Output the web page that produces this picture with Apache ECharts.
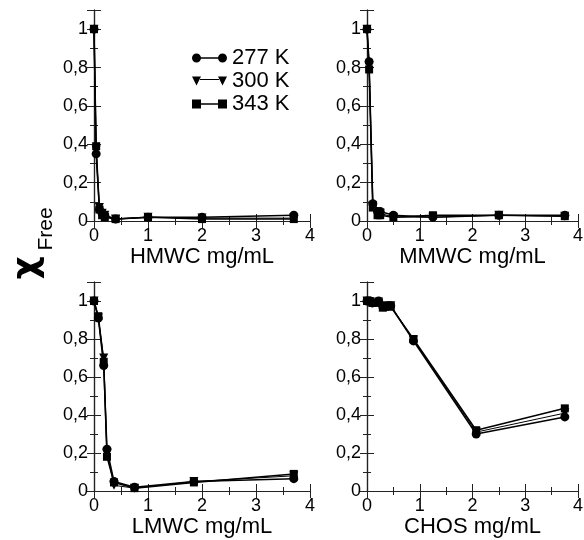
<!DOCTYPE html>
<html>
<head>
    <meta charset="utf-8">
    <title>chi free</title>
    <script src="https://cdn.jsdelivr.net/npm/echarts@6/dist/echarts.min.js"></script>
    <style>
        body { margin: 0; background: #fff; }
        #main { width: 584px; height: 540px; }
    </style>
</head>
<body>
<div id="main"></div>
<script>
    // HMWC
    var hmwcX = [0, 0.04, 0.1, 0.15, 0.2, 0.4, 1, 2, 3.7];
    var hmwc277 = [1, 0.35, 0.06, 0.04, 0.03, 0.01, 0.02, 0.02, 0.03];
    var hmwc300 = [1, 0.37, 0.07, 0.04, 0.03, 0.01, 0.02, 0.015, 0.015];
    var hmwc343 = [1, 0.39, 0.06, 0.03, 0.02, 0.01, 0.02, 0.01, 0.01];
    // MMWC
    var mmwcX = [0, 0.04, 0.11, 0.2, 0.25, 0.5, 1.25, 2.5, 3.75];
    var mmwc277 = [1, 0.83, 0.09, 0.05, 0.05, 0.03, 0.02, 0.03, 0.03];
    var mmwc300 = [1, 0.81, 0.08, 0.04, 0.04, 0.02, 0.02, 0.03, 0.025];
    var mmwc343 = [1, 0.79, 0.07, 0.03, 0.03, 0.02, 0.03, 0.03, 0.025];
    // LMWC
    var lmwcX = [0, 0.08, 0.18, 0.24, 0.37, 0.75, 1.85, 3.7];
    var lmwc277 = [1, 0.91, 0.66, 0.22, 0.05, 0.02, 0.05, 0.065];
    var lmwc300 = [1, 0.91, 0.70, 0.20, 0.03, 0.015, 0.05, 0.08];
    var lmwc343 = [1, 0.92, 0.68, 0.18, 0.045, 0.015, 0.045, 0.09];
    // CHOS
    var chosX = [0, 0.05, 0.1, 0.22, 0.3, 0.35, 0.45, 0.88, 2.07, 3.75];
    var chos277 = [1, 1, 0.99, 1, 0.97, 0.97, 0.975, 0.79, 0.30, 0.39];
    var chos300 = [1, 0.995, 0.99, 0.995, 0.97, 0.975, 0.975, 0.795, 0.31, 0.41];
    var chos343 = [1, 1, 0.99, 0.99, 0.965, 0.97, 0.97, 0.80, 0.32, 0.435];

    var panelNames = ['HMWC mg/mL', 'MMWC mg/mL', 'LMWC mg/mL', 'CHOS mg/mL'];
    var seriesNames = ['277 K', '300 K', '343 K'];
    var xTicks = ['0', '1', '2', '3', '4'];

    var panels = [
        [hmwcX, hmwc277, hmwc300, hmwc343],
        [mmwcX, mmwc277, mmwc300, mmwc343],
        [lmwcX, lmwc277, lmwc300, lmwc343],
        [chosX, chos277, chos300, chos343]
    ];

    var font = 'Liberation Sans';
    var grids = [
        {left: 94, top: 10, width: 216, height: 211},
        {left: 367, top: 10, width: 211, height: 211},
        {left: 94, top: 282, width: 216, height: 209},
        {left: 367, top: 282, width: 211, height: 209}
    ];
    grids.forEach(function (g) { g.outerBoundsMode = 'none'; });

    function zip(xs, ys) {
        return xs.map(function (x, i) { return [x, ys[i]]; });
    }

    function yFmt(v) {
        if (v > 1.05) return '';
        return String(Math.round(v * 10) / 10).replace('.', ',');
    }

    var lineAxis = {lineStyle: {color: '#222', width: 1.2}};
    var xAxes = [], yAxes = [], series = [];

    panels.forEach(function (p, i) {
        var xBase = {
            gridIndex: i, type: 'value', min: 0, max: 4, interval: 1,
            axisLine: lineAxis, splitLine: {show: false},
            axisTick: {inside: true, length: 7, lineStyle: {color: '#222'}},
            minorTick: {show: true, splitNumber: 2, length: 4, lineStyle: {color: '#222'}}
        };
        xAxes.push(Object.assign({}, xBase, {
            position: 'bottom',
            name: panelNames[i], nameLocation: 'middle', nameGap: 21,
            nameTextStyle: {fontFamily: font, fontSize: 22, color: '#000'},
            axisLabel: {
                fontFamily: font, fontSize: 18, color: '#000', margin: 6,
                formatter: function (v) { return xTicks[Math.round(v)]; }
            }
        }));
        xAxes.push(Object.assign({}, xBase, {position: 'top', axisLabel: {show: false}}));

        var yBase = {
            gridIndex: i, type: 'value', min: 0, max: 1.1, interval: 0.2,
            axisLine: lineAxis, splitLine: {show: false},
            axisTick: {inside: true, length: 7, lineStyle: {color: '#222'}},
            minorTick: {show: true, splitNumber: 2, length: 4, lineStyle: {color: '#222'}}
        };
        yAxes.push(Object.assign({}, yBase, {
            position: 'left',
            axisLabel: {fontFamily: font, fontSize: 18, color: '#000', margin: 6, formatter: yFmt}
        }));
        yAxes.push(Object.assign({}, yBase, {position: 'right', axisLabel: {show: false}}));

        var xs = p[0];
        series.push({
            name: '343 K', type: 'line', xAxisIndex: i * 2, yAxisIndex: i * 2,
            data: zip(xs, p[3]), symbol: 'rect', symbolSize: 8,
            lineStyle: {color: '#000', width: 1.5}, itemStyle: {color: '#000'}
        });
        series.push({
            name: '300 K', type: 'line', xAxisIndex: i * 2, yAxisIndex: i * 2,
            data: zip(xs, p[2]), symbol: 'triangle', symbolRotate: 180, symbolSize: 9,
            lineStyle: {color: '#000', width: 1}, itemStyle: {color: '#000'}
        });
        series.push({
            name: '277 K', type: 'line', xAxisIndex: i * 2, yAxisIndex: i * 2,
            data: zip(xs, p[1]), symbol: 'circle', symbolSize: 9,
            lineStyle: {color: '#000', width: 1.5}, itemStyle: {color: '#000'}
        });
    });

    var lineBar = ' M4.5,3.8 L30.5,3.8 L30.5,5.2 L4.5,5.2 Z';
    var icons = {
        '277 K': 'path://M0,4.5 A4.5,4.5 0 1,1 9,4.5 A4.5,4.5 0 1,1 0,4.5 Z M26,4.5 A4.5,4.5 0 1,1 35,4.5 A4.5,4.5 0 1,1 26,4.5 Z' + lineBar,
        '300 K': 'path://M0,0 L9,0 L4.5,9 Z M26,0 L35,0 L30.5,9 Z M8,2.5 L27,2.5 L27,3.5 L8,3.5 Z',
        '343 K': 'path://M0,0 L9,0 L9,9 L0,9 Z M26,0 L35,0 L35,9 L26,9 Z' + lineBar
    };

    var myChart = echarts.init(document.getElementById('main'), null, {renderer: 'canvas'});

    var option = {
        backgroundColor: '#fff',
        animation: false,
        grid: grids,
        xAxis: xAxes,
        yAxis: yAxes,
        legend: {
            orient: 'vertical', left: 187, top: 42,
            itemWidth: 35, itemHeight: 9, itemGap: 1,
            textStyle: {fontFamily: font, fontSize: 22, color: '#000'},
            data: seriesNames.map(function (n) {
                return {name: n, icon: icons[n], itemStyle: {color: '#000'}};
            })
        },
        graphic: [
            {
                type: 'text', x: 28, y: 268, rotation: Math.PI / 2,
                style: {text: 'χ', font: 'bold 36px "DejaVu Sans"', fill: '#000', align: 'center', verticalAlign: 'middle'}
            },
            {
                type: 'text', x: 46, y: 229, rotation: Math.PI / 2,
                style: {text: 'Free', font: '21px "Liberation Sans"', fill: '#000', align: 'center', verticalAlign: 'middle'}
            }
        ],
        series: series
    };

    myChart.setOption(option);
</script>
</body>
</html>
